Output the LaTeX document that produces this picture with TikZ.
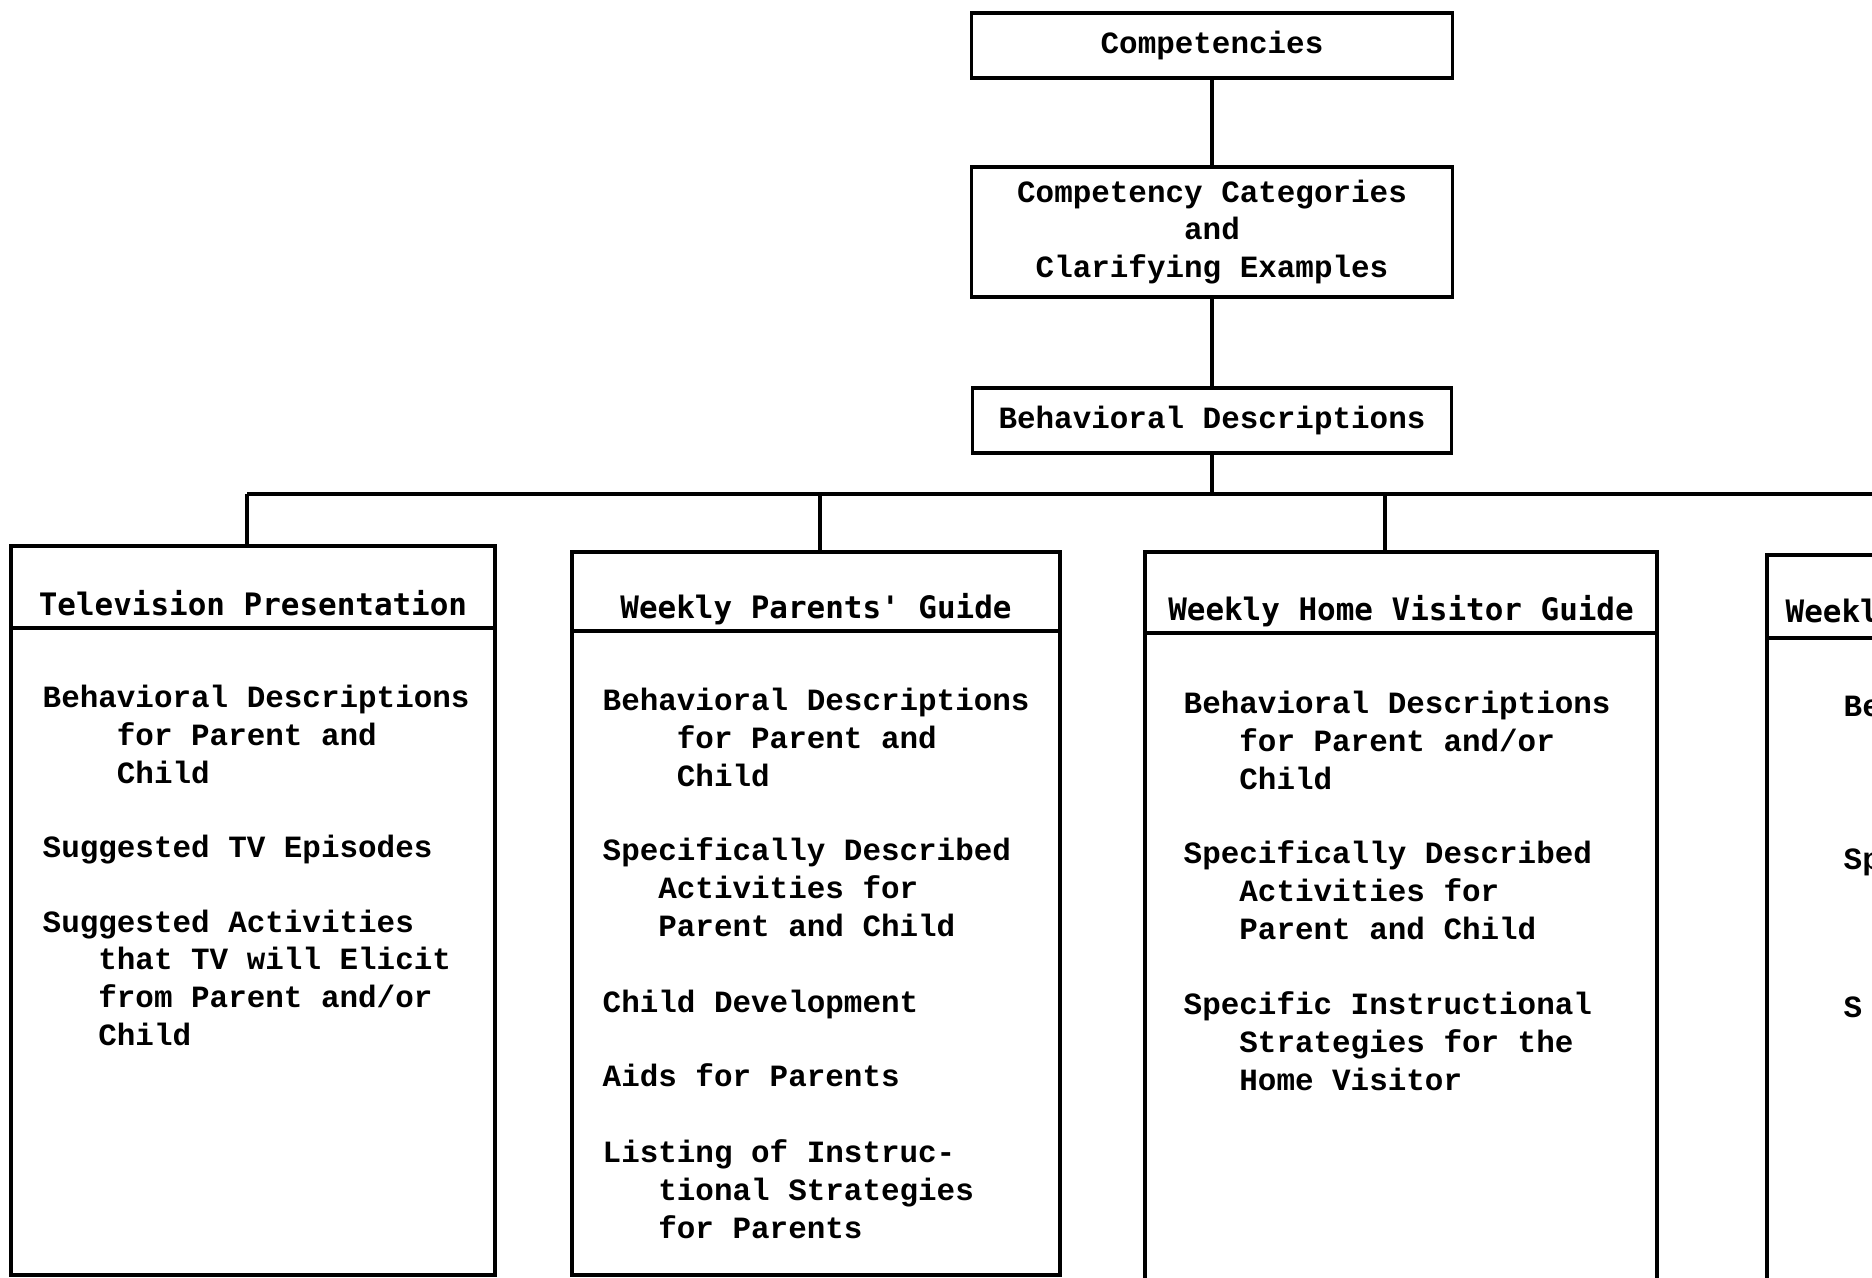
\documentclass[tikz,border=0pt]{standalone}
\usepackage{fontspec}
\usetikzlibrary{positioning}
\newfontfamily\typefont{Liberation Mono}
\newfontfamily\gothicfont{DejaVu Sans Mono}
\newcommand\typesize{\fontsize{8.8pt}{10.7pt}\selectfont}
\newcommand\ind[1]{\hspace*{\fpeval{0.6*#1}em}}

\tikzset{
  link/.style={line width=0.9pt},
  topbox/.style={draw,line width=0.9pt,minimum width=48.1mm,inner sep=0pt,outer sep=0pt,align=center,font=\typefont\bfseries\typesize},
  headcell/.style={draw,line width=0.9pt,anchor=north west,inner sep=0pt,outer sep=0pt},
  bodycell/.style={draw,line width=0.9pt,anchor=north west,inner sep=0pt,outer sep=0pt},
  headtext/.style={anchor=base,inner sep=0pt,font=\gothicfont\bfseries\typesize},
  % entries are placed by the baseline of their last line
  entry/.style={anchor=base west,inner sep=0pt,align=left,font=\typefont\bfseries\typesize},
}

\begin{document}
\begin{tikzpicture}[x=0.1mm,y=-0.1mm]
  \useasboundingbox (0,0) rectangle (1872,1278);
  \clip (0,0) rectangle (1872,1278);

  % top of the tree
  \node[topbox,minimum height=6.5mm] (comp) at (1212,45.5) {Competencies};
  \node[topbox,minimum height=13mm,below=8.9mm of comp] (cat) {Competency Categories\\and\\Clarifying Examples};
  \node[topbox,minimum height=6.5mm,minimum width=47.9mm,below=9.1mm of cat] (beh) {Behavioral Descriptions};
  \draw[link] (comp) -- (cat);
  \draw[link] (cat) -- (beh);

  % the four columns
  \node[headcell,minimum width=48.4mm,minimum height=8.2mm] (hd1) at (11,546) {};
  \node[bodycell,minimum width=48.4mm,minimum height=64.7mm] (bd1) at (hd1.south west) {};
  \node[headcell,minimum width=48.8mm,minimum height=7.9mm] (hd2) at (572,552) {};
  \node[bodycell,minimum width=48.8mm,minimum height=64.4mm] (bd2) at (hd2.south west) {};
  \node[headcell,minimum width=51.2mm,minimum height=8.1mm] (hd3) at (1145,552) {};
  \node[bodycell,minimum width=51.2mm,minimum height=66.7mm] (bd3) at (hd3.south west) {};
  \node[headcell,minimum width=30mm,minimum height=8.3mm] (hd4) at (1767,555) {};
  \node[bodycell,minimum width=30mm,minimum height=66.2mm] (bd4) at (hd4.south west) {};

  % bus
  \coordinate (busL) at (247,494);
  \coordinate (busR) at (1890,494);
  \coordinate (d2) at (820,494);
  \coordinate (d3) at (1385,494);
  \draw[link] (busL) -- (busR);
  \draw[link] (beh) -- (beh |- busL);
  \foreach \c/\b in {busL/hd1,d2/hd2,d3/hd3}
    \draw[link] (\c) -- (\c |- \b.north);

  % headings
  \node[headtext] (t1) at (253,615) {Television Presentation};
  \node[headtext] (t2) at (816,618) {Weekly Parents' Guide};
  \node[headtext] (t3) at (1401,620) {Weekly Home Visitor Guide};
  \node[headtext,anchor=base west] (t4) at (1785,622) {Weekly};

  % Television Presentation
  \node[entry] (a1) at (42,783) {Behavioral Descriptions\\\ind{4}for Parent and\\\ind{4}Child};
  \node[entry] (a2) at (42,857) {Suggested TV Episodes};
  \node[entry] (a3) at (42,1045) {Suggested Activities\\\ind{3}that TV will Elicit\\\ind{3}from Parent and/or\\\ind{3}Child};

  % Weekly Parents' Guide
  \node[entry] (b1) at (602,786) {Behavioral Descriptions\\\ind{4}for Parent and\\\ind{4}Child};
  \node[entry] (b2) at (602,936) {Specifically Described\\\ind{3}Activities for\\\ind{3}Parent and Child};
  \node[entry] (b3) at (602,1012) {Child Development};
  \node[entry] (b4) at (602,1086) {Aids for Parents};
  \node[entry] (b5) at (602,1238) {Listing of Instruc-\\\ind{3}tional Strategies\\\ind{3}for Parents};

  % Weekly Home Visitor Guide
  \node[entry] (c1) at (1183,789) {Behavioral Descriptions\\\ind{3}for Parent and/or\\\ind{3}Child};
  \node[entry] (c2) at (1183,939) {Specifically Described\\\ind{3}Activities for\\\ind{3}Parent and Child};
  \node[entry] (c3) at (1183,1090) {Specific Instructional\\\ind{3}Strategies for the\\\ind{3}Home Visitor};

  % cut off at the edge
  \node[entry] (e1) at (1843,716) {Be};
  \node[entry] (e2) at (1843,869) {Sp};
  \node[entry] (e3) at (1843,1017) {S};
\end{tikzpicture}
\end{document}
